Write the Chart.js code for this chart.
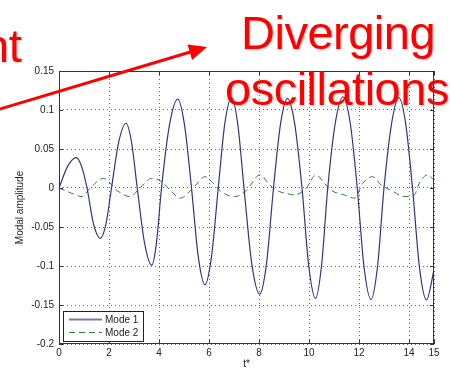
<!DOCTYPE html>
<html>
<head>
<meta charset="utf-8">
<script src="https://cdn.jsdelivr.net/npm/chart.js@4.4.0/dist/chart.umd.min.js"></script>
<style>
  html, body { margin: 0; padding: 0; background: #fff; }
  #wrap { position: relative; width: 451px; height: 370px; overflow: hidden; }
  #chart { position: absolute; left: 0; top: 0; }
  #arrow { position: absolute; left: 0; top: 0; }
  .note {
    position: absolute;
    color: #ff0000;
    font-family: "Liberation Sans", Arial, sans-serif;
    font-size: 47px;
    line-height: 1;
    letter-spacing: -0.5px;
    white-space: nowrap;
    text-shadow: 1px 1px 2px rgba(0, 0, 0, 0.2);
  }
</style>
</head>
<body>
<div id="wrap">
  <canvas id="chart" width="451" height="370"></canvas>
  <svg id="arrow" width="451" height="370">
    <line x1="-5" y1="110.5" x2="192" y2="51.5" stroke="#ff0000" stroke-width="3"/>
    <polygon points="207,47 192.1,59.9 187.5,44.5" fill="#ff0000"/>
  </svg>
  <div class="note" style="left:-17px; top:22px;">nt</div>
  <div class="note" style="left:241px; top:9px;">Diverging</div>
  <div class="note" style="left:225px; top:65px;">oscillations</div>
</div>
<script>
// time (t*) and amplitude
const timeMode1 = [0, 0.35, 0.69, 0.9, 1.12, 1.38, 1.65, 1.88, 2.1, 2.39, 2.68, 2.9, 3.13, 3.42, 3.71, 3.9,
    4.1, 4.42, 4.75, 5.02, 5.3, 5.57, 5.84, 6.1, 6.37, 6.63, 6.9, 7.15, 7.4, 7.71, 8.03, 8.3,
    8.58, 8.86, 9.14, 9.43, 9.72, 9.99, 10.26, 10.5, 10.75, 11.05, 11.36, 11.65, 11.93, 12.2,
    12.48, 12.74, 13.0, 13.3, 13.59, 13.87, 14.14, 14.42, 14.7, 15];
const ampMode1 = [0, 0.028, 0.039, 0.028, 0, -0.046, -0.0645, -0.046, 0, 0.059, 0.083, 0.059, 0, -0.07, -0.099, -0.07,
    0, 0.081, 0.114, 0.081, 0, -0.088, -0.124, -0.088, 0, 0.082, 0.116, 0.082, 0, -0.097, -0.136, -0.097,
    0, 0.082, 0.115, 0.082, 0, -0.1, -0.1415, -0.1, 0, 0.083, 0.117, 0.083, 0, -0.101,
    -0.143, -0.101, 0, 0.082, 0.116, 0.082, 0, -0.102, -0.1436, -0.105];

const timeMode2 = [0, 0.45, 0.92, 1.25, 1.78, 2.31, 2.84, 3.24, 3.71, 4.11, 4.51, 4.84, 5.37, 5.84, 6.17,
    6.5, 7.03, 7.5, 8.03, 8.43, 8.7, 9.1, 9.43, 9.86, 10.29, 10.62, 10.89, 11.42, 11.82, 12.15,
    12.55, 12.88, 13.28, 13.81, 14.21, 14.41, 14.74, 15];
const ampMode2 = [0, -0.006, -0.011, 0, 0.0124, -0.003, -0.011, 0, 0.0124, 0.008, -0.005, -0.013, 0, 0.0145, 0.006,
    -0.005, -0.011, -0.003, 0.0167, 0.004, -0.003, -0.007, -0.009, -0.001, 0.0167, 0.006, -0.003, -0.009, -0.013, 0.006,
    0.0145, 0.004, -0.003, -0.011, -0.009, 0.006, 0.0167, 0.01];

const seriesNames = ['Mode 1', 'Mode 2'];
const xTicks = [0, 2, 4, 6, 8, 10, 12, 14, 15];
const yTicks = [-0.2, -0.15, -0.1, -0.05, 0, 0.05, 0.1, 0.15];
const yTickLabels = ['-0.2', '-0.15', '-0.1', '-0.05', '0', '0.05', '0.1', '0.15'];

function toPoints(xs, ys) {
    return xs.map((x, i) => ({ x: x, y: ys[i] }));
}

Chart.defaults.font.family = '"Liberation Sans", Arial, sans-serif';
Chart.defaults.font.size = 10;
Chart.defaults.color = '#222';

// matlab style box, inward ticks and legend inside the axes
const matlabFrame = {
    id: 'matlabFrame',
    afterDatasetsDraw(chart) {
        const { ctx, chartArea: a, scales } = chart;
        ctx.save();
        ctx.strokeStyle = '#333';
        ctx.lineWidth = 1;
        ctx.setLineDash([]);
        ctx.beginPath();
        xTicks.forEach(v => {
            const px = Math.round(scales.x.getPixelForValue(v)) + 0.5;
            ctx.moveTo(px, a.bottom); ctx.lineTo(px, a.bottom - 4);
            ctx.moveTo(px, a.top); ctx.lineTo(px, a.top + 4);
        });
        yTicks.forEach(v => {
            const py = Math.round(scales.y.getPixelForValue(v)) + 0.5;
            ctx.moveTo(a.left, py); ctx.lineTo(a.left + 4, py);
            ctx.moveTo(a.right, py); ctx.lineTo(a.right - 4, py);
        });
        ctx.stroke();
        ctx.strokeRect(Math.round(a.left) + 0.5, Math.round(a.top) + 0.5,
            Math.round(a.right - a.left) - 1, Math.round(a.bottom - a.top) - 1);

        // legend box
        const bx = 63.5, by = 311.5, bw = 80, bh = 30;
        ctx.fillStyle = '#fff';
        ctx.fillRect(bx, by, bw, bh);
        ctx.strokeStyle = '#222';
        ctx.strokeRect(bx, by, bw, bh);
        const rows = [319.5, 332.5];
        chart.data.datasets.forEach((ds, i) => {
            ctx.strokeStyle = i === 0 ? '#7a7aaa' : ds.borderColor;
            ctx.lineWidth = i === 0 ? 1.8 : 1;
            ctx.setLineDash(ds.borderDash || []);
            ctx.beginPath();
            ctx.moveTo(69, rows[i]);
            ctx.lineTo(102, rows[i]);
            ctx.stroke();
            ctx.setLineDash([]);
            ctx.fillStyle = '#222';
            ctx.font = '10px "Liberation Sans", Arial, sans-serif';
            ctx.textBaseline = 'middle';
            ctx.fillText(ds.label, 105, rows[i] + 0.5);
        });
        ctx.restore();
    }
};

const canvas = document.getElementById('chart');
new Chart(canvas.getContext('2d'), {
    type: 'line',
    data: {
        datasets: [{
            label: seriesNames[0],
            data: toPoints(timeMode1, ampMode1),
            borderColor: '#34347e',
            borderWidth: 1.2,
            pointRadius: 0,
            cubicInterpolationMode: 'monotone',
            fill: false
        }, {
            label: seriesNames[1],
            data: toPoints(timeMode2, ampMode2),
            borderColor: '#2f7d3a',
            borderWidth: 1,
            borderDash: [6, 4],
            pointRadius: 0,
            cubicInterpolationMode: 'monotone',
            fill: false
        }]
    },
    options: {
        responsive: false,
        animation: false,
        layout: { padding: { top: 71, right: 17, left: 0, bottom: 0 } },
        plugins: {
            legend: { display: false },
            tooltip: { enabled: false }
        },
        scales: {
            x: {
                type: 'linear',
                min: 0,
                max: 15,
                afterBuildTicks: s => { s.ticks = xTicks.map(v => ({ value: v })); },
                afterFit: s => { s.height = 26; },
                ticks: { autoSkip: false, maxRotation: 0, padding: 3 },
                grid: { color: '#666', drawTicks: false, lineWidth: 1 },
                border: { display: false, dash: [1, 3] },
                title: { display: true, text: 't*', padding: { top: 0, bottom: 0 } }
            },
            y: {
                type: 'linear',
                min: -0.2,
                max: 0.15,
                afterBuildTicks: s => { s.ticks = yTicks.map(v => ({ value: v })); },
                afterFit: s => { s.width = 59; },
                ticks: { autoSkip: false, padding: 5, callback: (v, i) => yTickLabels[i] },
                grid: { color: '#666', drawTicks: false, lineWidth: 1 },
                border: { display: false, dash: [1, 3] },
                title: { display: true, text: 'Modal amplitude', padding: { top: 14, bottom: 0 } }
            }
        }
    },
    plugins: [matlabFrame]
});
</script>
</body>
</html>
